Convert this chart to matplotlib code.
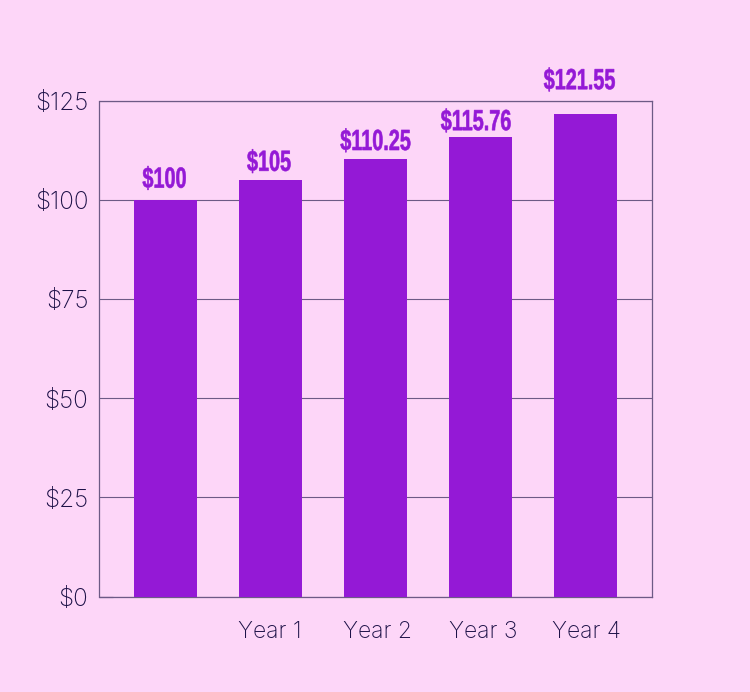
import matplotlib
matplotlib.use('Agg')
import matplotlib.pyplot as plt
from matplotlib.patheffects import AbstractPathEffect
from matplotlib.transforms import Affine2D, offset_copy

# values
years = ['', 'Year 1', 'Year 2', 'Year 3', 'Year 4']
values = [100, 105, 110.25, 115.76, 121.55]
value_labels = ['$100', '$105', '$110.25', '$115.76', '$121.55']
y_ticks = [0, 25, 50, 75, 100, 125]
y_tick_labels = ['$0', '$25', '$50', '$75', '$100', '$125']

BG = '#FDD6F8'
BAR = '#9419D6'
INK = '#1E1248'
LINE = '#6D5A86'


class Squeeze(AbstractPathEffect):
    # no condensed poster font here, so narrow the text around its own centre
    def __init__(self, factor, stroke):
        super().__init__()
        self.factor = factor
        self.stroke = stroke

    def draw_path(self, renderer, gc, tpath, affine, rgbFace=None):
        ext = tpath.transformed(affine).get_extents()
        cx = (ext.x0 + ext.x1) / 2
        squeezed = affine + Affine2D().translate(-cx, 0).scale(self.factor, 1).translate(cx, 0)
        gc0 = renderer.new_gc()
        gc0.copy_properties(gc)
        gc0.set_foreground(rgbFace)
        gc0.set_linewidth(self.stroke)
        renderer.draw_path(gc0, tpath, squeezed, rgbFace)
        gc0.restore()


W, H = 750, 692
fig = plt.figure(figsize=(W / 100, H / 100), dpi=100, facecolor=BG)
# axes box in pixels: x 99.5-652.5, y 100.5-596.5
ax = fig.add_axes([99.5 / W, 1 - 596.5 / H, 553 / W, 496 / H], facecolor=BG)

x = list(range(len(values)))
ax.bar(x, values, width=0.6, color=BAR, zorder=3)
ax.set_xlim(-0.629, 4.638)
ax.set_ylim(0, 125)

ax.set_xticks([])
ax.set_yticks(y_ticks)
ax.set_yticklabels([])
ax.tick_params(axis='y', direction='in', length=0)
ax.yaxis.grid(True, color=LINE, linewidth=0.8, zorder=1)
# only the $0 line has a short darker tick
first = ax.yaxis.get_major_ticks()[0].tick1line
first.set_markersize(10)
first.set_markeredgecolor(INK)
first.set_markeredgewidth(0.8)
for s in ax.spines.values():
    s.set_color(LINE)
    s.set_linewidth(0.9)

tr = offset_copy(ax.get_yaxis_transform(), fig=fig, x=-11, y=-3, units='dots')
for v, name in zip(y_ticks, y_tick_labels):
    ax.text(0, v, name, transform=tr, ha='right', va='center', fontname='Inter',
            fontsize=17.5, fontweight='light', color=INK, clip_on=False)

# the year labels sit a little off their bars in the original
year_shift = [0, -1, 1.5, 2.5, 0.5]
for i, name in enumerate(years):
    tr = offset_copy(ax.get_xaxis_transform(), fig=fig, x=year_shift[i], y=-36, units='dots')
    ax.text(i, 0, name, transform=tr, ha='center', va='center', fontname='Inter',
            fontsize=16.5, fontweight='light', color=INK, clip_on=False)

# value labels float at uneven distances above the bars
label_dx = [-1, -1.5, 0, -4.5, -6]
label_dy = [12, 9, 9, 7, 25]
for i, v in enumerate(values):
    tr = offset_copy(ax.transData, fig=fig, x=label_dx[i], y=label_dy[i], units='dots')
    ax.text(i, v, value_labels[i], transform=tr, ha='center', va='baseline',
            fontname='Liberation Sans', fontsize=21, fontweight='bold', color=BAR,
            clip_on=False, zorder=4, path_effects=[Squeeze(0.68, 0.4)])

fig.savefig('out.png', dpi=100, facecolor=BG)
